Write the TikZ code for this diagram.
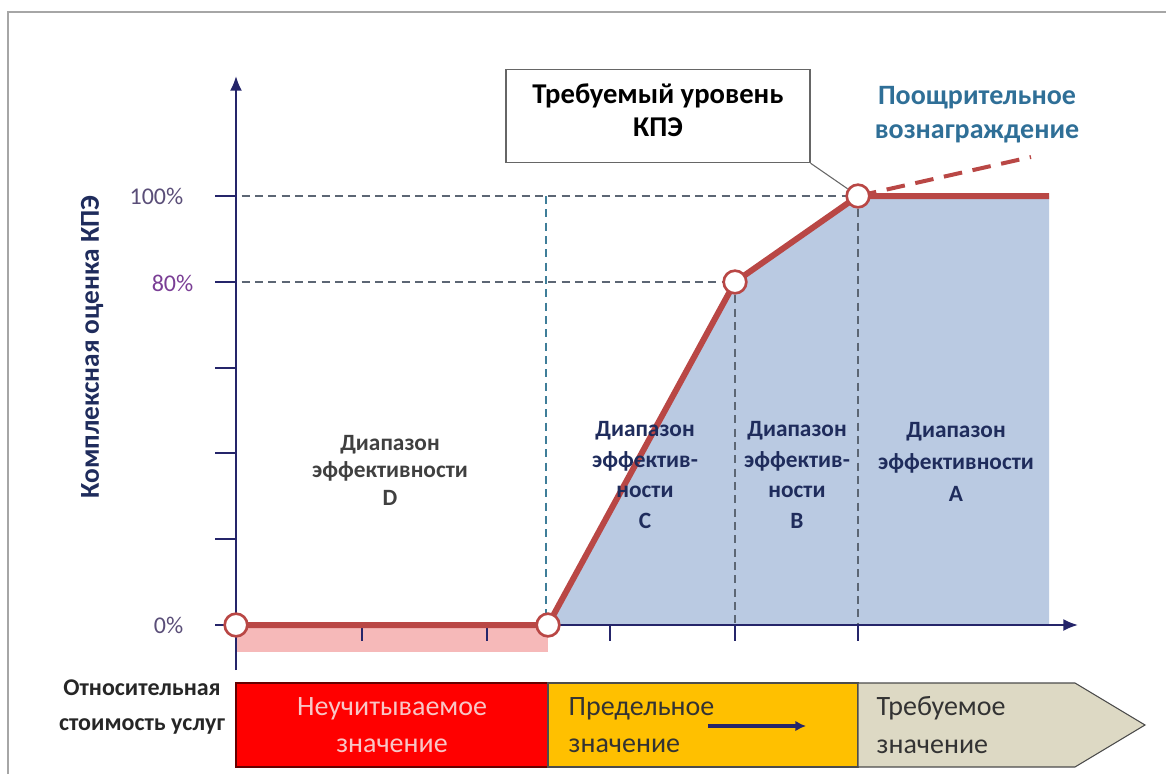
\documentclass[tikz,border=0pt]{standalone}
\usepackage{fontspec}
\setmainfont{Carlito}
\usetikzlibrary{arrows.meta, positioning, calc}

\definecolor{axisblue}{HTML}{25256A}
\definecolor{curvered}{HTML}{B94745}
\definecolor{zoneblue}{HTML}{BACAE2}
\definecolor{zonepink}{HTML}{F6B9B9}
\definecolor{guidegray}{HTML}{5C6674}
\definecolor{guideteal}{HTML}{3F7E99}
\definecolor{bonusteal}{HTML}{2F6F97}
\definecolor{pctpurple}{HTML}{7A3E95}
\definecolor{pctgray}{HTML}{5A4E78}
\definecolor{labelnavy}{HTML}{1F2C5C}
\definecolor{barred}{HTML}{FF0000}
\definecolor{baryellow}{HTML}{FFC000}
\definecolor{barbeige}{HTML}{DDD9C4}
\definecolor{textpink}{HTML}{F8C6C6}

\newcommand\fsz[2]{\fontsize{#1}{#2}\selectfont}

\begin{document}
\begin{tikzpicture}[x=0.75pt, y=-0.75pt,
    axisline/.style={draw=axisblue, line width=1.5pt},
    guide/.style={draw=guidegray, line width=1pt, dash pattern=on 6pt off 4pt},
    knot/.style={circle, draw=curvered, fill=white, line width=2pt, minimum size=17pt, inner sep=0pt},
    zonelabel/.style={align=center, font=\fsz{17.5}{23}\bfseries, text=labelnavy},
    pct/.style={anchor=east, font=\fsz{18}{20}, text=pctgray},
    barpart/.style={draw=black!70, line width=0.8pt},
    bartext/.style={align=left, anchor=west, font=\fsz{21}{28}, text=black!80}
  ]
  \useasboundingbox (0,0) rectangle (1166,774);
  \draw[black!35, line width=1.5pt] (8,774) -- (8,12) -- (1166,12);

  % points of the curve
  \coordinate (c0) at (236,625);
  \coordinate (c1) at (548,625);
  \coordinate (c2) at (735,282);
  \coordinate (c3) at (858,196);
  \coordinate (cend) at (1049,196);
  \coordinate (cbase) at (1049,625);
  \coordinate (bonus) at (1031,157);

  % shaded zones
  \fill[zoneblue] (c1) -- (c2) -- (c3) -- (cend) -- (cbase) -- cycle;
  \fill[zonepink] (236,625) rectangle (548,652);

  % guide lines
  \draw[guide] (215,196) -- (c3);
  \draw[guide] (215,282) -- (c2);
  \draw[guide, draw=guideteal] (546,196) -- (546,625);
  \draw[guide] (c2) -- (735,641);
  \draw[guide] (c3) -- (858,641);

  % axes
  \coordinate (ytop) at (236,76);
  \coordinate (xend) at (1078,625);
  \draw[axisline, -{Latex[length=11pt, width=9pt]}] (236,670) -- (ytop);
  \draw[axisline, -{Latex[length=11pt, width=9pt]}] (215,625) -- (xend);
  \foreach \y in {196,282,368,453,539}
    \draw[axisline, line width=1pt] (215,\y) -- (236,\y);
  \foreach \x in {362,487,610,735,858}
    \draw[axisline, line width=1pt] (\x,625) -- (\x,641);

  \node[pct] (p100) at (188,196) {100\%};
  \node[pct, text=pctpurple] (p80) at (198,283) {80\%};
  \node[pct] (p0) at (188,625) {0\%};

  \node[rotate=90, font=\fsz{20.5}{24}\bfseries, text=labelnavy] (ylabel) at (92,347) {Комплексная оценка КПЭ};

  % curve
  \draw[curvered, line width=4.5pt, line join=round] (c0) -- (c1) -- (c2) -- (c3) -- (cend);
  \draw[curvered, line width=3pt, dash pattern=on 14pt off 8pt] (c3) -- (bonus);
  \node[knot] (k0) at (c0) {};
  \node[knot] (k1) at (c1) {};
  \node[knot] (k2) at (c2) {};
  \node[knot] (k3) at (c3) {};

  % callout
  \node[draw=black!60, fill=white, line width=0.8pt, minimum width=228pt, minimum height=70pt] (target) at (658,116) {};
  \node[align=center, font=\fsz{21.5}{25}\bfseries] (targettext) at (658,110) {Требуемый уровень\\КПЭ};
  \draw[black!60, line width=0.8pt] (target.south east) -- (k3);
  \node[align=center, font=\fsz{21}{25.5}\bfseries, text=bonusteal] (reward) at (977,115) {Поощрительное\\вознаграждение};

  % zone labels
  \node[zonelabel, text=black!75, font=\fsz{17.5}{20.6}\bfseries] (zoneD) at (390,470) {Диапазон\\эффективности\\D};
  \node[zonelabel] (zoneC) at (645,475) {Диапазон\\эффектив-\\ности\\C};
  \node[zonelabel] (zoneB) at (797,475) {Диапазон\\эффектив-\\ности\\B};
  \node[zonelabel, font=\fsz{17.5}{24}\bfseries] (zoneA) at (956,462) {Диапазон\\эффективности\\A};

  % cost bar
  \fill[barred] (236,683) rectangle (548,767);
  \draw[barpart, draw=red!40!black] (236,683) rectangle (548,767);
  \filldraw[barpart, fill=baryellow] (548,683) rectangle (858,767);
  \filldraw[barpart, fill=barbeige] (858,683) -- (1075,683) -- (1145,725) -- (1075,767) -- (858,767) -- cycle;

  \node[align=center, font=\fsz{18}{26}\bfseries, text=black!85] (costlabel) at (142,707) {Относительная\\стоимость услуг};
  \node[align=center, font=\fsz{21}{28}, text=textpink] (ignored) at (392,725) {Неучитываемое\\значение};
  \node[bartext] (limit) at (564,725) {Предельное\\значение};
  \node[bartext] (required) at (872,725) {Требуемое\\значение};
  \coordinate (moveA) at (708,726);
  \coordinate (moveB) at (806,726);
  \draw[axisblue, line width=3pt, -{Latex[length=8pt, width=8pt]}] (moveA) -- (moveB);
\end{tikzpicture}
\end{document}
